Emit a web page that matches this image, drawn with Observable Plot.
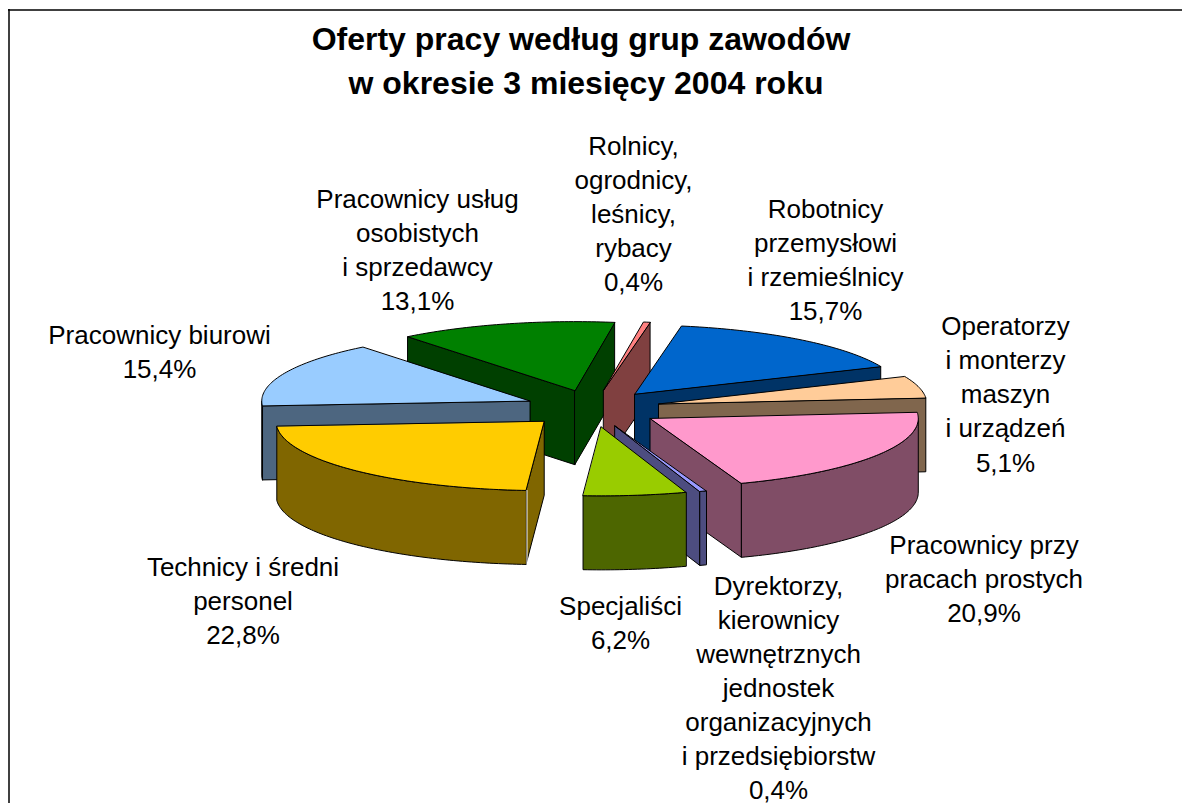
<!DOCTYPE html>
<html>
<head>
<meta charset="utf-8">
<script src="https://cdn.jsdelivr.net/npm/d3@7"></script>
<script src="https://cdn.jsdelivr.net/npm/@observablehq/plot@0.6"></script>
<style>
  html, body { margin: 0; padding: 0; background: #fff; }
  svg { display: block; }
</style>
</head>
<body>
<div id="chart"></div>
<script>
// ---- data ----
const titleLines = ["Oferty pracy według grup zawodów", "w okresie 3 miesięcy 2004 roku"];
const categories = [
  "Robotnicy\nprzemysłowi\ni rzemieślnicy",
  "Operatorzy\ni monterzy\nmaszyn\ni urządzeń",
  "Pracownicy przy\npracach prostych",
  "Dyrektorzy,\nkierownicy\nwewnętrznych\njednostek\norganizacyjnych\ni przedsiębiorstw",
  "Specjaliści",
  "Technicy i średni\npersonel",
  "Pracownicy biurowi",
  "Pracownicy usług\nosobistych\ni sprzedawcy",
  "Rolnicy,\nogrodnicy,\nleśnicy,\nrybacy"
];
const shares = [15.7, 5.1, 20.9, 0.4, 6.2, 22.8, 15.4, 13.1, 0.4];

// ---- styles and layout ----
const topColors = ["#0066cc", "#ffcc99", "#ff99cc", "#9999ff", "#99cc00", "#ffcc00", "#99ccff", "#008000", "#ff8080"];
const labelX = [825, 1005, 983.5, 778, 620, 242.5, 159, 417, 633];
const labelY = [258, 392, 577, 685.5, 621, 599, 350, 248, 211.5];
const titleX = [580.5, 585.5];
const titleY = [39, 83];
const paintOrder = [7, 8, 6, 0, 1, 5, 2, 3, 4];
const pie = {cx: 592, cy: 408, a: 268, b: 69, depth: 74, ex: 68.5, ey: 18.5, firstAngle: 10};

// ---- geometry derived from the values ----
const rad = (d) => d * Math.PI / 180;
const dark = (c) => { const r = d3.rgb(c); return d3.rgb(r.r / 2, r.g / 2, r.b / 2).formatHex(); };
const total = d3.sum(shares);
let cursor = pie.firstAngle;
const slices = shares.map((v, i) => {
  const t0 = cursor, t1 = cursor + v / total * 360;
  cursor = t1;
  const mid = rad((t0 + t1) / 2);
  return {i, t0, t1, ax: pie.cx + pie.ex * Math.sin(mid), ay: pie.cy - pie.ey * Math.cos(mid)};
});
const rimPoint = (s, t) => [s.ax + pie.a * Math.sin(rad(t)), s.ay - pie.b * Math.cos(rad(t))];
const arc = (s, t0, t1) => {
  const n = Math.max(1, Math.ceil(t1 - t0));
  return d3.range(n + 1).map((k) => rimPoint(s, t0 + (t1 - t0) * k / n));
};
const faces = [];
let faceId = 0;
const pushFace = (pts, color) => {
  const z = faceId++;
  pts.forEach(([x, y]) => faces.push({x, y, z, color}));
};
for (const i of paintOrder) {
  const s = slices[i];
  const top = topColors[i], wall = dark(top);
  const A = [s.ax, s.ay], Ad = [s.ax, s.ay + pie.depth];
  const wallAt = (t) => {
    const P = rimPoint(s, t);
    pushFace([A, P, [P[0], P[1] + pie.depth], Ad], wall);
  };
  if (Math.sin(rad(s.t0)) < 0) wallAt(s.t0);
  if (Math.sin(rad(s.t1)) > 0) wallAt(s.t1);
  const r0 = Math.max(s.t0, 90), r1 = Math.min(s.t1, 270);
  if (r1 > r0) {
    const up = arc(s, r0, r1);
    const down = up.map(([x, y]) => [x, y + pie.depth]).reverse();
    pushFace([...up, ...down], wall);
  }
  pushFace([A, ...arc(s, s.t0, s.t1)], top);
}
// thin light seam at the front edge of the largest slice
const seamTop = rimPoint(slices[5], slices[5].t0);
const seam = [{x: seamTop[0], y: seamTop[1]}, {x: seamTop[0], y: seamTop[1] + pie.depth}];

const pct = (v) => v.toFixed(1).replace(".", ",") + "%";
const labels = categories.map((c, i) => ({text: c + "\n" + pct(shares[i]), x: labelX[i], y: labelY[i]}));
const titles = titleLines.map((text, i) => ({text, x: titleX[i], y: titleY[i]}));

const chart = Plot.plot({
  width: 1182,
  height: 803,
  margin: 0,
  x: {domain: [0, 1182], range: [0, 1182], axis: null},
  y: {domain: [0, 803], range: [0, 803], axis: null},
  color: {type: "identity"},
  style: {background: "#fff", fontFamily: "'Liberation Sans', Arial, sans-serif"},
  marks: [
    Plot.ruleX([8.5], {y1: 9, y2: 803, stroke: "#000", strokeWidth: 1.5}),
    Plot.ruleY([9.5], {x1: 8, x2: 1182, stroke: "#000", strokeWidth: 1.5}),
    Plot.line(faces, {x: "x", y: "y", z: "z", fill: "color", stroke: "#000", strokeWidth: 1, curve: "linear-closed"}),
    Plot.line(seam, {x: "x", y: "y", dx: 1, stroke: "#fff", strokeWidth: 1}),
    Plot.text(labels, {x: "x", y: "y", text: "text", fontSize: 26, lineHeight: 1.31, lineAnchor: "middle", fill: "#000"}),
    Plot.text(titles, {x: "x", y: "y", text: "text", fontSize: 32, fontWeight: "bold", lineAnchor: "middle", fill: "#000"})
  ]
});
document.getElementById("chart").appendChild(chart);
</script>
</body>
</html>
